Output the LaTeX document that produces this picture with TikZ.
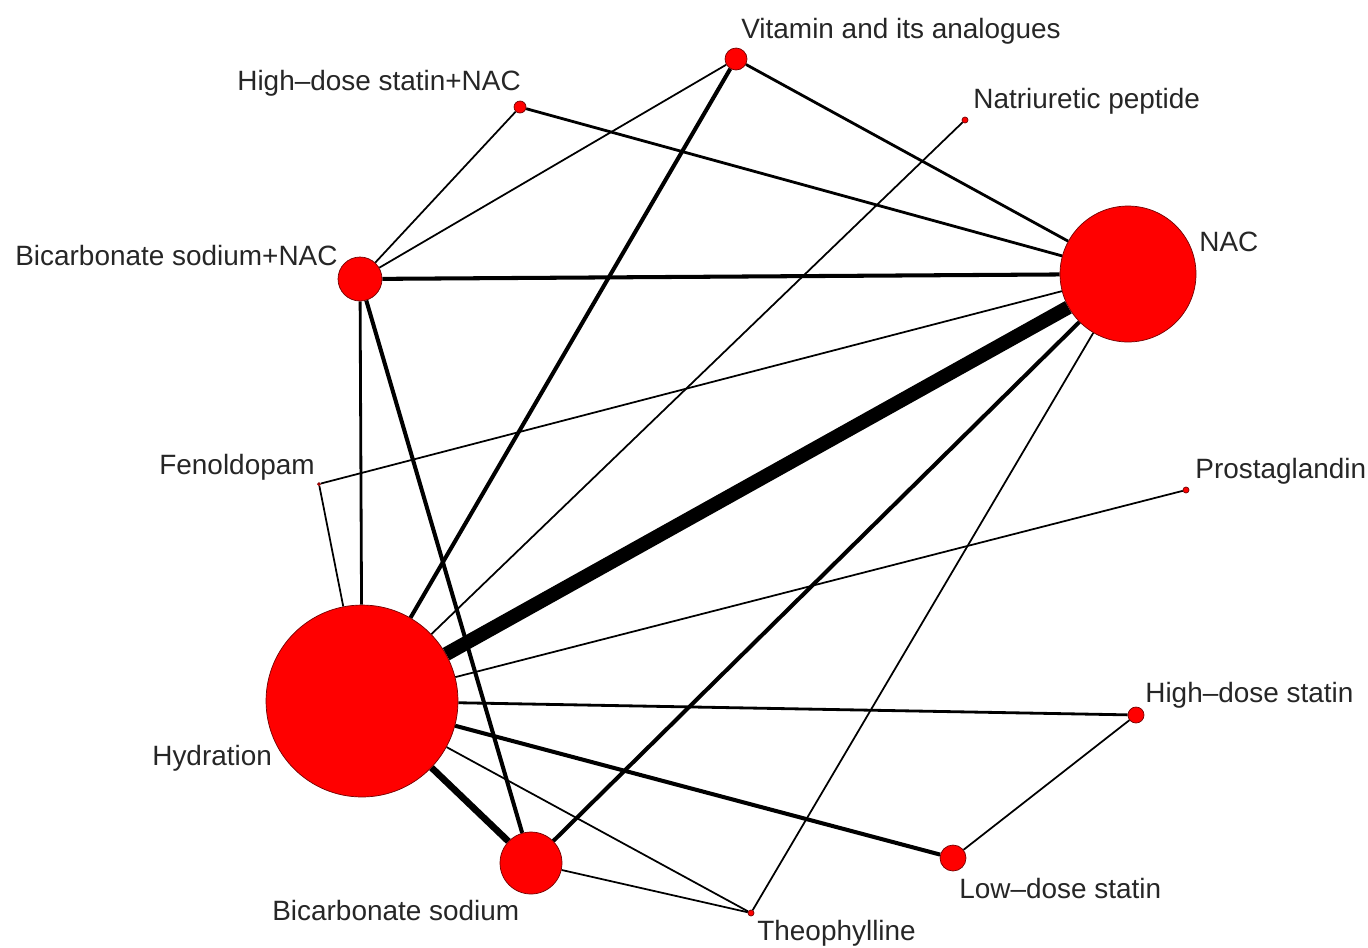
\documentclass[tikz,border=0pt]{standalone}
\usepackage{fontspec}
\setmainfont{Liberation Sans}
\usetikzlibrary{backgrounds}

\tikzset{
    trt/.style={circle, fill=red, draw=red!45!black, line width=0.4pt, inner sep=0pt},
    lab/.style={anchor=base west, inner sep=0pt, text=black!85,
        font=\fontsize{15.9}{19}\selectfont},
    wthin/.style={line width=1.0pt},
    wmed/.style={line width=1.6pt},
    wthick/.style={line width=2.3pt},
    wheavy/.style={line width=3.8pt},
    wmax/.style={line width=8pt}
}

\begin{document}
\begin{tikzpicture}[x=0.02cm, y=-0.02cm]
    \useasboundingbox (0,0) rectangle (1368,947);
    % treatments, sized by number of patients
    \node[trt, minimum size=3.84cm] (hyd) at (362,701) {};
    \node[trt, minimum size=2.72cm] (nac) at (1128,274) {};
    \node[trt, minimum size=1.24cm] (bic) at (531,863) {};
    \node[trt, minimum size=0.88cm] (bicnac) at (360,279) {};
    \node[trt, minimum size=0.52cm] (ldstat) at (953,858) {};
    \node[trt, minimum size=0.44cm] (vit) at (736,59) {};
    \node[trt, minimum size=0.32cm] (hdstat) at (1136,715) {};
    \node[trt, minimum size=0.24cm] (hdsnac) at (520,107) {};
    \node[trt, minimum size=0.12cm] (natr) at (965,120) {};
    \node[trt, minimum size=0.12cm] (prost) at (1186,490) {};
    \node[trt, minimum size=0.12cm] (theo) at (751,913) {};
    \node[trt, minimum size=0.06cm] (fen) at (319,484) {};
    % names
    \node[lab] (vitL) at (741,38) {Vitamin and its analogues};
    \node[lab] (hdsnacL) at (237,90) {High--dose statin+NAC};
    \node[lab] (natrL) at (973,108) {Natriuretic peptide};
    \node[lab] (nacL) at (1199,251) {NAC};
    \node[lab] (bicnacL) at (15,265) {Bicarbonate sodium+NAC};
    \node[lab] (fenL) at (159,474) {Fenoldopam};
    \node[lab] (prostL) at (1195,478) {Prostaglandin};
    \node[lab] (hdstatL) at (1145,702) {High--dose statin};
    \node[lab] (hydL) at (152,765) {Hydration};
    \node[lab] (ldstatL) at (959,898) {Low--dose statin};
    \node[lab] (bicL) at (272,920) {Bicarbonate sodium};
    \node[lab] (theoL) at (757,940) {Theophylline};
    % direct comparisons
    \begin{scope}[on background layer]
        \draw[wmax] (nac) -- (hyd);
        \draw[wheavy] (hyd) -- (bic);
        \draw[wthick] (hyd) -- (ldstat);
        \draw[wthick] (hyd) -- (vit);
        \draw[wthick] (bicnac) -- (nac);
        \draw[wthick] (bicnac) -- (bic);
        \draw[wthick] (nac) -- (bic);
        \draw[wmed] (hyd) -- (hdstat);
        \draw[wmed] (bicnac) -- (hyd);
        \draw[wmed] (vit) -- (nac);
        \draw[wmed] (hdsnac) -- (nac);
        \draw[wthin] (vit) -- (bicnac);
        \draw[wthin] (hdsnac) -- (bicnac);
        \draw[wthin] (natr) -- (hyd);
        \draw[wthin] (nac) -- (fen);
        \draw[wthin] (fen) -- (hyd);
        \draw[wthin] (nac) -- (theo);
        \draw[wthin] (prost) -- (hyd);
        \draw[wthin] (hyd) -- (theo);
        \draw[wthin] (bic) -- (theo);
        \draw[wthin] (hdstat) -- (ldstat);
    \end{scope}
\end{tikzpicture}
\end{document}
